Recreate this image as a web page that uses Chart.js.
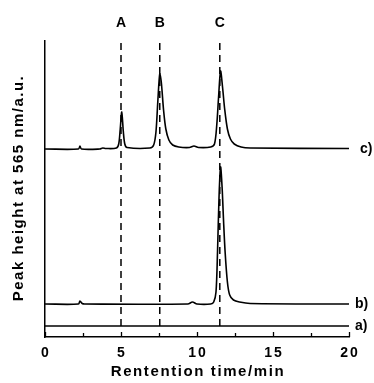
<!DOCTYPE html>
<html>
<head>
<meta charset="utf-8">
<script src="https://cdn.jsdelivr.net/npm/chart.js@4"></script>
<style>
    html, body { margin: 0; padding: 0; background: #fff; }
    canvas { display: block; }
</style>
</head>
<body>
<canvas id="chromChart" width="374" height="383"></canvas>
<script>
// retention time (min) / peak height (a.u.)

// trace a) - flat
const timeA = [0, 20];
const heightA = [11, 11];

// trace b) - only peak C
const timeB = [0, 2.2, 2.3, 2.45, 2.6, 9.4, 9.7, 10.0, 10.9, 11.1, 11.25, 11.35, 11.45, 11.55,
    11.65, 11.75, 11.85, 12.0, 12.15, 12.4, 12.8, 13.5, 20];
const heightB = [33, 33, 36, 33.5, 33, 33, 35, 33, 33, 35, 45, 85, 140, 170,
    150, 115, 85, 55, 42, 37, 35, 33.5, 33];

// trace c) - peaks A, B, C
const timeC = [0, 2.2, 2.3, 2.4, 3.6, 3.8, 4.0, 4.7, 4.85, 4.95, 5.05, 5.15, 5.25, 5.4,
    6.9, 7.15, 7.3, 7.42, 7.55, 7.65, 7.8, 7.95, 8.15, 8.4, 8.8, 9.5, 9.8, 10.1,
    10.9, 11.15, 11.3, 11.42, 11.55, 11.68, 11.82, 12.0, 12.2, 12.45, 12.9, 13.5, 20];
const heightC = [188, 188, 191, 188, 188, 189, 188.5, 189, 193, 208, 225, 206, 193, 189.5,
    189, 192, 205, 235, 263, 255, 227, 208, 197, 192, 190, 189.5, 191, 189.5,
    190, 193, 212, 240, 266, 250, 228, 208, 198, 193, 190, 189, 188.5];

// dashed marker lines
const markerTimes = [5.0, 7.55, 11.5];
const markerNames = ['A', 'B', 'C'];
const markerSpan = [11, 295];

// trace labels on the right
const traceNames = ['a)', 'b)', 'c)'];
const traceLevels = [11, 33, 188];

const xTicks = [0, 5, 10, 15, 20];
const xMinorStep = 2.5;

const FONT = '"Liberation Sans", Arial, sans-serif';

const toPoints = (xs, ys) => xs.map((x, i) => ({ x: x, y: ys[i] }));

const traceStyle = {
    borderColor: '#000',
    borderWidth: 1.6,
    pointRadius: 0,
    showLine: true,
    tension: 0.3,
    fill: false
};

const datasets = [
    { ...traceStyle, data: toPoints(timeA, heightA), tension: 0 },
    { ...traceStyle, data: toPoints(timeB, heightB) },
    { ...traceStyle, data: toPoints(timeC, heightC) }
];

markerTimes.forEach(t => {
    datasets.push({
        data: markerSpan.map(y => ({ x: t, y: y })),
        borderColor: '#000',
        borderWidth: 1.5,
        borderDash: [7, 5],
        pointRadius: 0,
        showLine: true
    });
});

// texte et graduations
const decorPlugin = {
    id: 'decor',
    afterDraw(chart) {
        const ctx = chart.ctx;
        const xs = chart.scales.x;
        const ys = chart.scales.y;
        const area = chart.chartArea;
        ctx.save();
        ctx.fillStyle = '#000';
        ctx.strokeStyle = '#000';

        // inward ticks
        ctx.lineWidth = 1.3;
        for (let v = xs.min; v <= xs.max + 1e-6; v += xMinorStep) {
            const px = Math.round(xs.getPixelForValue(v)) + 0.5;
            const len = xTicks.includes(v) ? 5 : 4;
            ctx.beginPath();
            ctx.moveTo(px, area.bottom);
            ctx.lineTo(px, area.bottom - len);
            ctx.stroke();
        }

        // tick labels
        ctx.font = 'bold 14px ' + FONT;
        ctx.letterSpacing = '2px';
        ctx.textAlign = 'center';
        ctx.textBaseline = 'middle';
        xTicks.forEach(v => {
            ctx.fillText(String(v), xs.getPixelForValue(v) + 1, area.bottom + 16);
        });

        // x title
        ctx.font = 'bold 15px ' + FONT;
        ctx.letterSpacing = '1.6px';
        ctx.fillText('Rentention time/min', (area.left + area.right) / 2 + 1, 372);

        // y title
        ctx.save();
        ctx.translate(19, 188);
        ctx.rotate(-Math.PI / 2);
        ctx.letterSpacing = '1.5px';
        ctx.fillText('Peak height at 565 nm/a.u.', 0, 0);
        ctx.restore();

        // peak names
        ctx.font = 'bold 14px ' + FONT;
        ctx.letterSpacing = '0px';
        markerTimes.forEach((t, i) => {
            ctx.fillText(markerNames[i], xs.getPixelForValue(t), 23);
        });

        // trace names
        ctx.textAlign = 'left';
        traceNames.forEach((name, i) => {
            const x = name === 'c)' ? area.right + 11 : area.right + 6;
            ctx.fillText(name, x, ys.getPixelForValue(traceLevels[i]));
        });

        ctx.restore();
    }
};

const chart = new Chart(document.getElementById('chromChart').getContext('2d'), {
    type: 'scatter',
    data: { datasets: datasets },
    options: {
        responsive: false,
        animation: false,
        layout: { padding: { top: 41, right: 25, left: 0, bottom: 0 } },
        plugins: {
            legend: { display: false },
            tooltip: { enabled: false }
        },
        scales: {
            x: {
                type: 'linear',
                min: 0,
                max: 20,
                grid: { display: false },
                border: { display: true, color: '#000', width: 1.5 },
                ticks: { display: false },
                afterFit: (scale) => { scale.height = 46; }
            },
            y: {
                type: 'linear',
                min: 0,
                max: 296,
                grid: { display: false },
                border: { display: true, color: '#000', width: 1.5 },
                ticks: { display: false },
                afterFit: (scale) => { scale.width = 45; }
            }
        }
    },
    plugins: [decorPlugin]
});
</script>
</body>
</html>
